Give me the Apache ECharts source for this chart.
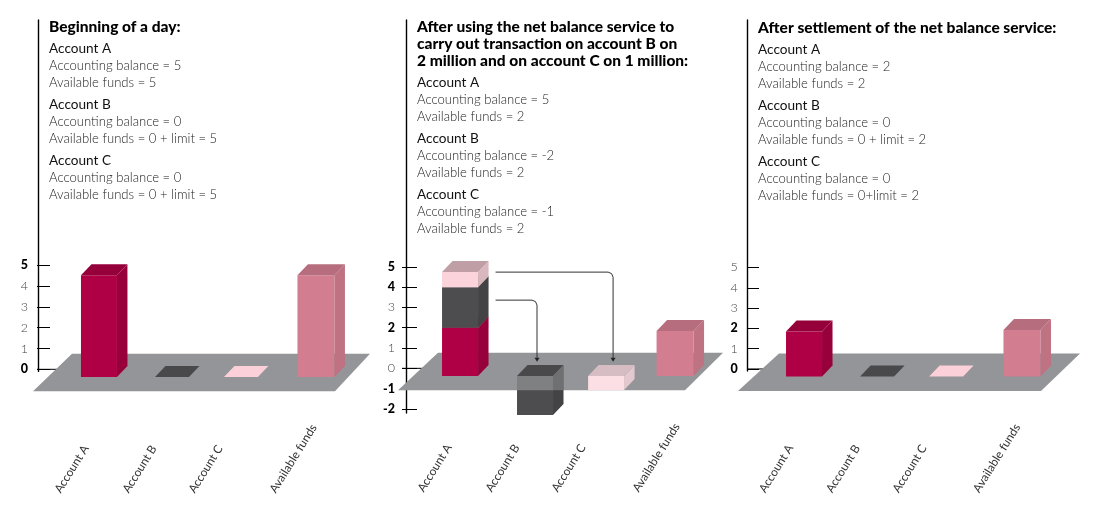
<!DOCTYPE html>
<html>
<head>
<meta charset="utf-8">
<style>html,body{margin:0;padding:0;background:#fff}#c{width:1099px;height:512px}</style>
<script src="https://cdn.jsdelivr.net/npm/echarts@6/dist/echarts.min.js"></script>
</head>
<body>
<div id="c"></div>
<script>
const categories = ['Account A', 'Account B', 'Account C', 'Available funds'];

const headings1 = ['Beginning of a day:'];
const headings2 = ['After using the net balance service to', 'carry out transaction on account B on', '2 million and on account C on 1 million:'];
const headings3 = ['After settlement of the net balance service:'];

const notes1 = [
  ['Account A', 'Accounting balance = 5', 'Available funds = 5'],
  ['Account B', 'Accounting balance = 0', 'Available funds = 0 + limit = 5'],
  ['Account C', 'Accounting balance = 0', 'Available funds = 0 + limit = 5']
];
const notes2 = [
  ['Account A', 'Accounting balance = 5', 'Available funds = 2'],
  ['Account B', 'Accounting balance = -2', 'Available funds = 2'],
  ['Account C', 'Accounting balance = -1', 'Available funds = 2']
];
const notes3 = [
  ['Account A', 'Accounting balance = 2', 'Available funds = 2'],
  ['Account B', 'Accounting balance = 0', 'Available funds = 0 + limit = 2'],
  ['Account C', 'Accounting balance = 0', 'Available funds = 0+limit = 2']
];

const yTicks1 = [0, 1, 2, 3, 4, 5];
const yTicks2 = [-2, -1, 0, 1, 2, 3, 4, 5];
const yTicks3 = [0, 1, 2, 3, 4, 5];
const boldTicks1 = [0, 5];
const boldTicks2 = [-2, -1, 2, 4, 5];
const boldTicks3 = [0, 2];

// bar segments, bottom to top, per category
const crimson1 = [4.53, null, null, null];
const dark1    = [null, 0, null, null];
const pink1    = [null, null, 0, null];
const funds1   = [null, null, null, 4.53];

const crimson2 = [2, null, null, null];
const dark2    = [2, -2.3, null, null];
const pink2    = [0.74, null, -1.07, null];
const funds2   = [null, null, null, 1.84];

const crimson3 = [1.84, null, null, null];
const dark3    = [null, 0, null, null];
const pink3    = [null, null, 0, null];
const funds3   = [null, null, null, 1.92];

// arrows in the middle panel: from a value on Account A to the top of another category
const arrowFromValues = [4.74, 3.36];
const arrowToCategories = [2, 1];

const FONT = 'Lato, "Noto Sans", sans-serif';
const palette = {
  crimson: {front:'#b00045', side:'#98003b', top:'#96003a'},
  dark:    {front:'#4d4d4f', side:'#434345', top:'#49494b'},
  pink:    {front:'#fbd4db', side:'#d8b7be', top:'#bf9ea6'},
  pinkNeg: {front:'#fbdfe4', side:'#e3c9cf', top:'#d6bcc3'},
  pinkFlat:{front:'#fbd3da', side:'#fbd3da', top:'#fbd0d8'},
  funds:   {front:'#d27d90', side:'#bf7282', top:'#b66e7e'}
};

const panels = [
  {seg:{crimson:crimson1,dark:dark1,pink:pink1,funds:funds1}, ticks:yTicks1, bold:boldTicks1, heads:headings1, notes:notes1,
   textX:49, headY:27, notesY:48.4, axisX:38.5, tickL:37, tickR:50, zeroR:60, gridL:62.8, gridW:289.3, top:20, bottom:371.4, min:-0.1, max:16.8, labelGap:9,
   nudge:[0,0.7,-2.7,0], labelX:[54.5,122.5,188.5,269.5], widths:[36,34,34,37], floor:[33,335,72,370], depth:[10.5,11]},
  {seg:{crimson:crimson2,dark:dark2,pink:pink2,funds:funds2}, ticks:yTicks2, bold:boldTicks2, heads:headings2, notes:notes2,
   textX:417, headY:27, notesY:82.4, axisX:406, tickL:402, tickR:417, zeroR:428, gridL:424.2, gridW:286.7, top:20, bottom:413, min:-2.2, max:17.16, labelGap:7,
   nudge:[0,3.3,2.7,0], labelX:[417.5,485.5,551.5,632.5], widths:[36,36,36,37], floor:[398,685,438,723], depth:[10.5,11], arrowNudge:[0,2,7,0]},
  {seg:{crimson:crimson3,dark:dark3,pink:pink3,funds:funds3}, ticks:yTicks3, bold:boldTicks3, heads:headings3, notes:notes3,
   textX:758, headY:27.5, notesY:49.4, axisX:747.7, tickL:747.7, tickR:759, zeroR:768, gridL:767.7, gridW:290.6, top:20, bottom:371, min:-0.1, max:17.19, labelGap:10,
   nudge:[0,0.4,-3.2,0], labelX:[759,826,892.5,973], widths:[36,34,34,37], floor:[738,1041,779,1080], depth:[10.5,11]}
];
const W = 1099, H = 512;
const BASE = 7.6, FLOOR_TOP = -15.5, FLOOR_BOTTOM = 22;

const grids = [], xAxes = [], yAxes = [], series = [], graphics = [];

panels.forEach(function (p, pi) {
  grids.push({left:p.gridL, top:p.top, width:p.gridW, height:p.bottom - p.top});
  xAxes.push({type:'category', gridIndex:pi, data:categories, axisLine:{show:false}, axisTick:{show:false}, axisLabel:{show:false}, splitLine:{show:false}});
  yAxes.push({type:'value', gridIndex:pi, min:p.min, max:p.max, position:'left', offset:p.gridL - p.tickL,
    axisLine:{show:false},
    splitLine:{show:false},
    axisTick:{show:true, inside:true, length:p.tickR - p.tickL, customValues:p.ticks, lineStyle:{color:'#000', width:1}},
    axisLabel:{show:true, customValues:p.ticks, margin:p.labelGap, fontFamily:FONT,
      formatter:function (v) { return (p.bold.indexOf(v) >= 0 ? '{b|' : '{t|') + v + '}'; },
      rich:{b:{fontFamily:FONT, fontWeight:900, fontSize:12.5, color:'#000'}, t:{fontFamily:FONT, fontWeight:300, fontSize:12.5, color:'#444'}}
    }});
  yAxes.push({type:'value', gridIndex:pi, min:p.min, max:p.max, position:'left', offset:p.gridL - p.axisX,
    axisLine:{show:true, onZero:false, lineStyle:{color:'#000', width:1.4}}, axisTick:{show:false}, axisLabel:{show:false}, splitLine:{show:false}});

  const yi = pi * 2;

  // floor with the long zero tick beneath it
  series.push({type:'custom', xAxisIndex:pi, yAxisIndex:yi, silent:true, z:2, clip:false, data:[[0, 0]],
    renderItem:function (params, api) {
      const zero = api.coord([0, 0])[1], f = p.floor;
      return {type:'group', children:[
        {type:'line', shape:{x1:p.tickL, y1:zero, x2:p.zeroR, y2:zero}, style:{stroke:'#000', lineWidth:1}},
        {type:'polygon', shape:{points:[[f[0], zero + FLOOR_BOTTOM],[f[1], zero + FLOOR_BOTTOM],[f[3], zero + FLOOR_TOP],[f[2], zero + FLOOR_TOP]]}, style:{fill:'#939598'}}
      ]};
    }});

  // bar segments
  const running = [0, 0, 0, 0];
  ['crimson', 'dark', 'pink', 'funds'].forEach(function (key) {
    const data = [];
    p.seg[key].forEach(function (v, i) {
      if (v === null) return;
      if (v > 0) { data.push([i, running[i], running[i] + v]); running[i] += v; }
      else data.push([i, 0, v]);
    });
    series.push({type:'custom', name:key, xAxisIndex:pi, yAxisIndex:yi, z:3, clip:false, encode:{x:0, y:[1, 2]}, data:data,
      renderItem:function (params, api) {
        const i = api.value(0), s = api.value(1), e = api.value(2);
        const zero = api.coord([i, 0]);
        const cx = zero[0] + p.nudge[i], hw = p.widths[i] / 2;
        const base = zero[1] + BASE;
        let top, bottom;
        if (e > 0) { top = api.coord([i, e])[1]; bottom = s === 0 ? base : api.coord([i, s])[1]; }
        else if (e < 0) { top = base; bottom = api.coord([i, e])[1]; }
        else { top = base; bottom = base; }
        const dx = p.depth[0], dy = p.depth[1];
        const l = cx - hw, r = cx + hw;
        let c = palette[key];
        if (key === 'pink' && e < 0) c = palette.pinkNeg;
        if (key === 'pink' && e === 0) c = palette.pinkFlat;
        const ch = [];
        if (bottom > top) {
          ch.push({type:'polygon', shape:{points:[[l,top],[r,top],[r,bottom],[l,bottom]]}, style:{fill:c.front}});
          ch.push({type:'polygon', shape:{points:[[r,top],[r+dx,top-dy],[r+dx,bottom-dy],[r,bottom]]}, style:{fill:c.side}});
        }
        ch.push({type:'polygon', shape:{points:[[l,top],[r,top],[r+dx,top-dy],[l+dx,top-dy]]}, style:{fill:c.top}});
        // the part of a dark bar that hangs in front of the floor shows through it
        if (key === 'dark' && e < 0) {
          const fb = zero[1] + FLOOR_BOTTOM;
          ch.push({type:'polygon', shape:{points:[[l,top],[r,top],[r,fb],[l,fb]]}, style:{fill:'rgba(147,149,152,0.7)'}});
          ch.push({type:'polygon', shape:{points:[[r,top],[r+dx,top-dy],[r+dx,fb],[r,fb]]}, style:{fill:'rgba(147,149,152,0.55)'}});
        }
        return {type:'group', children:ch};
      }});
  });

  // category labels
  series.push({type:'custom', xAxisIndex:pi, yAxisIndex:yi, silent:true, z:4, clip:false, data:categories.map(function (c, i) { return [i, 0]; }),
    renderItem:function (params, api) {
      const i = api.value(0);
      const zero = api.coord([i, 0])[1];
      return {type:'text', x:p.labelX[i] + 3, y:zero + 122.5, rotation:58 * Math.PI / 180,
        style:{text:categories[i], textAlign:'left', textVerticalAlign:'middle', font:'400 11.8px ' + FONT, fill:'#333'}};
    }});

  // texts
  p.heads.forEach(function (t, k) {
    graphics.push({type:'text', x:p.textX, y:p.headY + k * 17.2, style:{text:t, font:'900 15.5px ' + FONT, fill:'#000', verticalAlign:'middle'}});
  });
  p.notes.forEach(function (group, g) {
    group.forEach(function (t, k) {
      graphics.push({type:'text', x:p.textX, y:p.notesY + g * 56 + k * 17,
        style:{text:t, font:(k === 0 ? '400 13.6px ' : '300 13.1px ') + FONT, fill:k === 0 ? '#111' : '#222', verticalAlign:'middle'}});
    });
  });
});

// arrows of the middle panel
series.push({type:'custom', xAxisIndex:1, yAxisIndex:2, silent:true, z:5, clip:false,
  data:arrowFromValues.map(function (v, i) { return [arrowToCategories[i], v]; }),
  renderItem:function (params, api) {
    const p = panels[1];
    const cat = api.value(0), v = api.value(1);
    const y0 = api.coord([0, v])[1];
    const zero = api.coord([cat, 0]);
    const x0 = api.coord([0, 0])[0] + p.widths[0] / 2 + p.depth[0] + 7;
    const x1 = zero[0] + p.nudge[cat] + p.arrowNudge[cat];
    const y1 = zero[1] - 6.5;
    const rad = 5;
    return {type:'group', children:[
      {type:'polyline', shape:{points:[[x0,y0],[x1-rad,y0],[x1-rad*0.3,y0+rad*0.3],[x1,y0+rad],[x1,y1-4]]}, style:{stroke:'#333', lineWidth:1, fill:null}},
      {type:'polygon', shape:{points:[[x1-2.5,y1-4],[x1+2.5,y1-4],[x1,y1]]}, style:{fill:'#222'}}
    ]};
  }});

const chart = echarts.init(document.getElementById('c'), null, {width:W, height:H});
chart.setOption({
  animation:false,
  backgroundColor:'#fff',
  grid:grids, xAxis:xAxes, yAxis:yAxes, series:series, graphic:graphics
});
</script>
</body>
</html>
